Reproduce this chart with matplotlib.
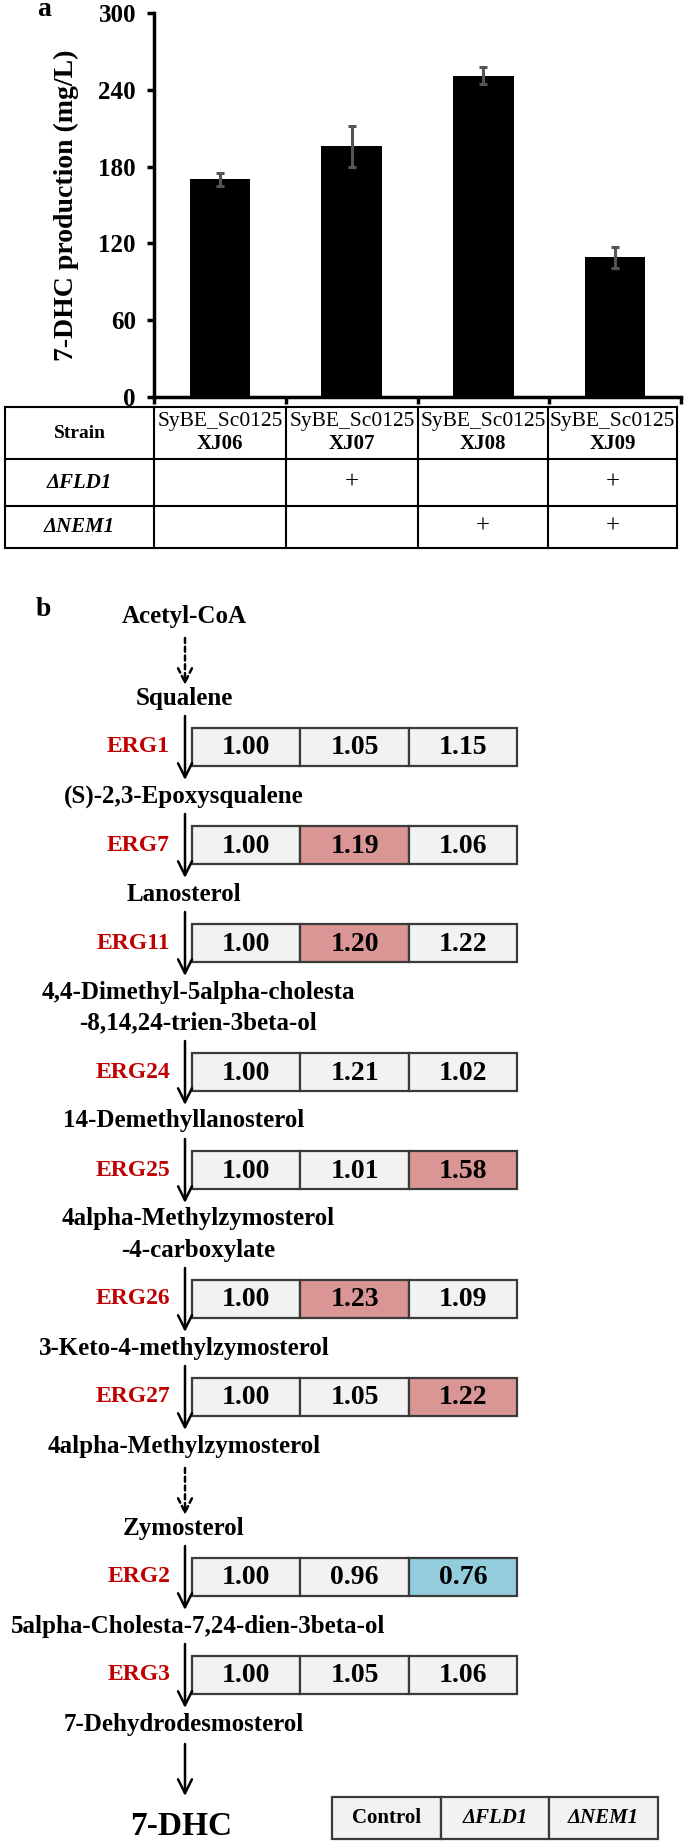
import numpy as np
import matplotlib
matplotlib.use('Agg')
import matplotlib.pyplot as plt
from matplotlib.patches import Rectangle

plt.rcParams['font.family'] = ['Liberation Serif', 'DejaVu Serif']
plt.rcParams['font.weight'] = 'bold'

# panel a data
strains = ['XJ06', 'XJ07', 'XJ08', 'XJ09']
strain_prefix = 'SyBE_Sc0125'
production = [170, 196, 251, 109]
prod_err = [5, 16, 6.5, 8]
fld1_del = ['', '+', '', '+']
nem1_del = ['', '', '+', '+']
yticks = [0, 60, 120, 180, 240, 300]

# panel b data
compounds = ['Acetyl-CoA', 'Squalene', '(S)-2,3-Epoxysqualene', 'Lanosterol',
             '4,4-Dimethyl-5alpha-cholesta\n-8,14,24-trien-3beta-ol',
             '14-Demethyllanosterol', '4alpha-Methylzymosterol\n-4-carboxylate',
             '3-Keto-4-methylzymosterol', '4alpha-Methylzymosterol', 'Zymosterol',
             '5alpha-Cholesta-7,24-dien-3beta-ol', '7-Dehydrodesmosterol', '7-DHC']
# gene for each step between compounds (None = multi-step dashed arrow, '' = no gene)
step_genes = [None, 'ERG1', 'ERG7', 'ERG11', 'ERG24', 'ERG25', 'ERG26', 'ERG27',
              None, 'ERG2', 'ERG3', '']
genes = ['ERG1', 'ERG7', 'ERG11', 'ERG24', 'ERG25', 'ERG26', 'ERG27', 'ERG2', 'ERG3']
fc_control = [1.00, 1.00, 1.00, 1.00, 1.00, 1.00, 1.00, 1.00, 1.00]
fc_fld1 = [1.05, 1.19, 1.20, 1.21, 1.01, 1.23, 1.05, 0.96, 1.05]
fc_nem1 = [1.15, 1.06, 1.22, 1.02, 1.58, 1.09, 1.22, 0.76, 1.06]
flag_fld1 = ['', 'up', 'up', '', '', 'up', '', '', '']
flag_nem1 = ['', '', '', '', 'up', '', 'up', 'down', '']
legend_labels = ['Control', 'ΔFLD1', 'ΔNEM1']

W, H = 685, 1841
fig = plt.figure(figsize=(W / 100, H / 100), dpi=100)

# overlay axes in pixel coordinates for tables and the pathway
ov = fig.add_axes([0, 0, 1, 1])
ov.set_xlim(0, W)
ov.set_ylim(H, 0)
ov.axis('off')

# ---- panel a: bar chart ----
ax = fig.add_axes([154 / W, 1 - 397 / H, 527 / W, 384 / H])
x = np.arange(len(strains))
ax.bar(x, production, width=0.46, color='black', zorder=2)
ax.errorbar(x, production, yerr=prod_err, fmt='none', ecolor='#555555',
            elinewidth=2.2, capsize=3, capthick=2.2, zorder=3)
ax.set_xlim(-0.5, len(strains) - 0.5)
ax.set_ylim(0, 300)
ax.set_yticks(yticks)
ax.set_xticks(np.arange(len(strains) + 1) - 0.5)
ax.set_xticklabels([])
for lab in ax.get_yticklabels():
    lab.set_fontsize(18)
    lab.set_fontweight('bold')
ax.tick_params(axis='y', direction='out', length=5, width=2.5, pad=8)
ax.tick_params(axis='x', direction='out', length=5, width=2.5)
for s in ['top', 'right']:
    ax.spines[s].set_visible(False)
for s in ['left', 'bottom']:
    ax.spines[s].set_linewidth(2.5)
ax.set_ylabel('7-DHC production (mg/L)', fontsize=20, fontweight='bold', labelpad=14)
ax.patch.set_alpha(0)
fig.text(37 / W, 1 - 10 / H, 'a', fontsize=20, fontweight='bold', va='center')

# panel a table
col_x = [5, 154, 286, 418, 548, 677]
row_y = [407, 459, 506, 548]
for yy in row_y:
    ov.plot([col_x[0], col_x[-1]], [yy, yy], color='black', lw=1.5)
for xx in col_x:
    ov.plot([xx, xx], [row_y[0], row_y[-1]], color='black', lw=1.5)
lx = (col_x[0] + col_x[1]) / 2
ov.text(lx, (row_y[0] + row_y[1]) / 2, 'Strain', ha='center', va='center',
        fontsize=14, fontweight='bold')
ov.text(lx, (row_y[1] + row_y[2]) / 2, 'ΔFLD1', ha='center', va='center',
        fontsize=15, fontweight='bold', style='italic')
ov.text(lx, (row_y[2] + row_y[3]) / 2, 'ΔNEM1', ha='center', va='center',
        fontsize=15, fontweight='bold', style='italic')
for i, s in enumerate(strains):
    cx = (col_x[i + 1] + col_x[i + 2]) / 2
    ov.text(cx, 421, strain_prefix, ha='center', va='center', fontsize=15.5,
            fontweight='normal')
    ov.text(cx, 444, s, ha='center', va='center', fontsize=15, fontweight='bold')
    ov.text(cx, (row_y[1] + row_y[2]) / 2, fld1_del[i], ha='center', va='center',
            fontsize=18, fontweight='normal')
    ov.text(cx, (row_y[2] + row_y[3]) / 2, nem1_del[i], ha='center', va='center',
            fontsize=18, fontweight='normal')

# ---- panel b: pathway ----
fig.text(36 / W, 1 - 609 / H, 'b', fontsize=20, fontweight='bold', va='center')

arrow_x = 185
box_x0 = 192
cell_w = 108.5
box_h = 38
line_gap = 31
colors = {'': '#f2f2f2', 'up': '#d99694', 'down': '#93cddd'}
head = '->,head_length=1.0,head_width=0.5'

y = 616
gi = 0
for k, name in enumerate(compounds):
    lines = name.split('\n')
    cx = 198 if (len(lines) > 1 or len(name) > 30) else 184
    if k == len(compounds) - 1:
        ov.text(cx - 3, y + 11, name, ha='center', va='baseline', fontsize=24,
                fontweight='bold')
        break
    for j, ln in enumerate(lines):
        ov.text(cx, y + j * line_gap, ln, ha='center', va='center',
                fontsize=18, fontweight='bold')
    last = y + (len(lines) - 1) * line_gap
    step = step_genes[k]
    if step is None:
        nxt = last + 82
        ov.annotate('', xy=(arrow_x, nxt - 13), xytext=(arrow_x, last + 22),
                    arrowprops=dict(arrowstyle=head, lw=1.8, ls=(0, (2, 1.5)),
                                    color='black', shrinkA=0, shrinkB=0))
    elif step == '':
        nxt = last + 100
        ov.annotate('', xy=(arrow_x, nxt - 28), xytext=(arrow_x, last + 20),
                    arrowprops=dict(arrowstyle=head, lw=1.8, color='black',
                                    shrinkA=0, shrinkB=0))
    else:
        nxt = last + 98
        a0, a1 = last + 18, nxt - 16
        ov.annotate('', xy=(arrow_x, a1), xytext=(arrow_x, a0),
                    arrowprops=dict(arrowstyle=head, lw=1.8, color='black',
                                    shrinkA=0, shrinkB=0))
        cy = (a0 + a1) / 2 - 1
        ov.text(170, cy, genes[gi], ha='right', va='center', fontsize=17,
                fontweight='bold', color='#c00000')
        vals = [fc_control[gi], fc_fld1[gi], fc_nem1[gi]]
        flags = ['', flag_fld1[gi], flag_nem1[gi]]
        for c in range(3):
            ov.add_patch(Rectangle((box_x0 + c * cell_w, cy - box_h / 2), cell_w, box_h,
                                   facecolor=colors[flags[c]], edgecolor='#3a3a3a', lw=1.6))
            ov.text(box_x0 + (c + 0.5) * cell_w, cy + 1, '%.2f' % vals[c],
                    ha='center', va='center', fontsize=20, fontweight='bold')
        gi += 1
    y = nxt

# legend table
leg_x0, leg_y0, leg_w, leg_h = 332, 1797, 108.7, 42
for c, lab in enumerate(legend_labels):
    ov.add_patch(Rectangle((leg_x0 + c * leg_w, leg_y0), leg_w, leg_h,
                           facecolor='#f2f2f2', edgecolor='#3a3a3a', lw=1.6))
    ov.text(leg_x0 + (c + 0.5) * leg_w, leg_y0 + leg_h / 2, lab, ha='center',
            va='center', fontsize=15, fontweight='bold',
            style='normal' if c == 0 else 'italic')

fig.savefig('out.png', dpi=100)
